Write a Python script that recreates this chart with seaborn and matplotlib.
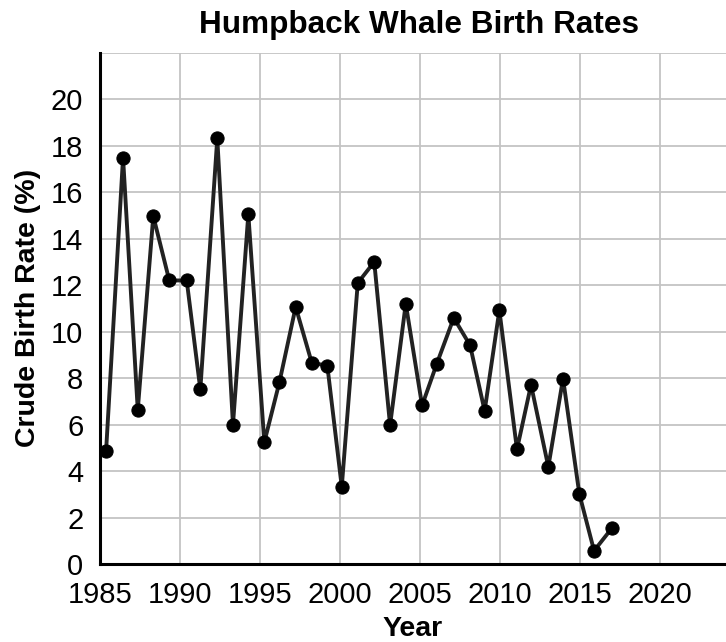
import matplotlib
matplotlib.use('Agg')

import matplotlib.pyplot as plt
import seaborn as sns
import pandas as pd

# values
years = [1985.38, 1986.44, 1987.36, 1988.33, 1989.33, 1990.42, 1991.27, 1992.33,
         1993.31, 1994.27, 1995.27, 1996.21, 1997.23, 1998.23, 1999.21, 2000.11,
         2001.11, 2002.14, 2003.13, 2004.11, 2005.13, 2006.04, 2007.11, 2008.13,
         2009.04, 2009.96, 2011.06, 2011.94, 2013.02, 2013.94, 2014.96, 2015.88,
         2016.98]
birth_rate = [4.86, 17.49, 6.63, 14.97, 12.2, 12.2, 7.51, 18.32,
              5.99, 15.05, 5.24, 7.81, 11.06, 8.67, 8.52, 3.32,
              12.09, 13.0, 5.97, 11.2, 6.82, 8.6, 10.59, 9.41,
              6.59, 10.92, 4.93, 7.71, 4.18, 7.98, 3.01, 0.57,
              1.53]
x_ticks = [1985, 1990, 1995, 2000, 2005, 2010, 2015, 2020]
y_ticks = [0, 2, 4, 6, 8, 10, 12, 14, 16, 18, 20, 22]
y_labels = ['0', '2', '4', '6', '8', '10', '12', '14', '16', '18', '20', '']

df = pd.DataFrame({'Year': years, 'Rate': birth_rate})

sns.set_style('whitegrid')
plt.rcParams['font.family'] = ['Liberation Sans', 'DejaVu Sans']
plt.rcParams['text.color'] = 'black'
plt.rcParams['axes.labelcolor'] = 'black'

fig = plt.figure(figsize=(7.26, 6.42), dpi=100)
ax = fig.add_axes([100 / 726, 1 - 564 / 642, 626 / 726, (564 - 52.7) / 642])

sns.lineplot(data=df, x='Year', y='Rate', ax=ax, color='#222222', linewidth=2.8,
             marker='o', markersize=9.5, markerfacecolor='black',
             markeredgecolor='black', clip_on=False)

ax.set_xlim(1985, 2024.125)
ax.set_ylim(0, 22)
ax.set_xticks(x_ticks)
ax.set_yticks(y_ticks)
ax.set_yticklabels(y_labels)
ax.tick_params(axis='both', labelsize=21, length=0, pad=12, colors='black')

ax.grid(True, color='#c4c4c4', linewidth=1.3)
for side in ['top', 'right']:
    ax.spines[side].set_visible(False)
for side in ['left', 'bottom']:
    ax.spines[side].set_color('black')
    ax.spines[side].set_linewidth(2.2)
    ax.spines[side].set_zorder(5)

ax.set_xlabel('Year', fontsize=20.5, fontweight='bold', labelpad=5)
ax.set_ylabel('Crude Birth Rate (%)', fontsize=20.5, fontweight='bold', labelpad=7)
ax.set_title('Humpback Whale Birth Rates', fontsize=22.7, fontweight='bold', pad=14, x=0.51)

plt.savefig('out.png', dpi=100)
plt.close()
